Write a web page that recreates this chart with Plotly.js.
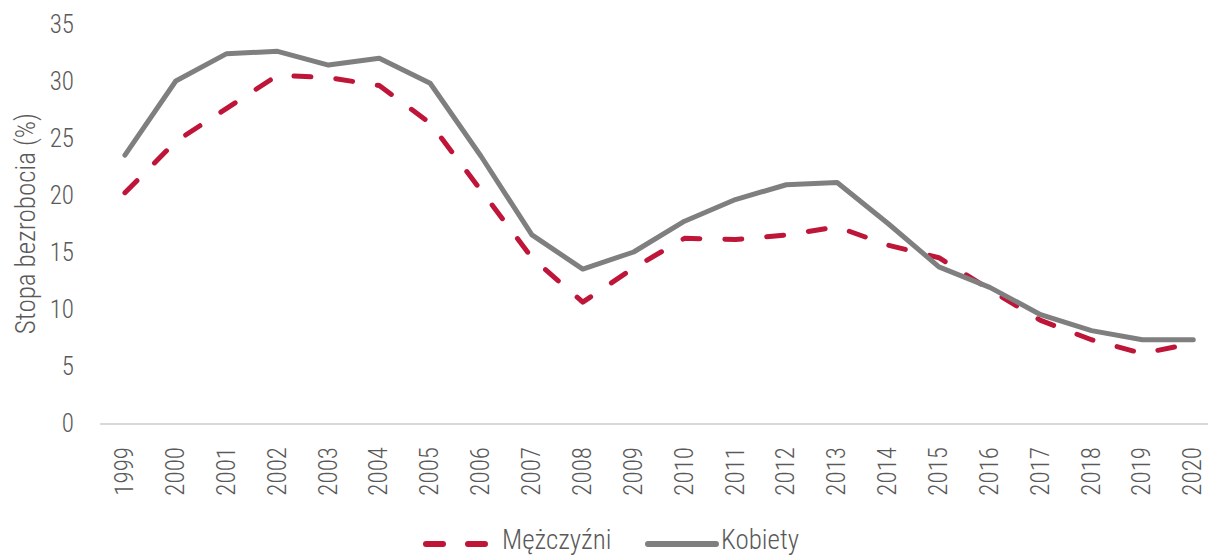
<!DOCTYPE html>
<html>
<head>
<meta charset="utf-8">
<script src="https://cdn.plot.ly/plotly-3.0.1.min.js"></script>
<style>
html,body{margin:0;padding:0;background:#fff;}
#chart{width:1208px;height:558px;}
.scatterlayer path.js-line, .shapelayer path{stroke-linecap:round !important;stroke-linejoin:round !important;}
</style>
</head>
<body>
<div id="chart"></div>
<script>
const years = ["1999","2000","2001","2002","2003","2004","2005","2006","2007","2008","2009","2010","2011","2012","2013","2014","2015","2016","2017","2018","2019","2020"];
const mezczyzni = [20.2,24.7,27.6,30.5,30.3,29.6,26.3,20.4,14.5,10.6,13.6,16.2,16.1,16.5,17.2,15.6,14.5,11.7,9.0,7.3,6.1,7.0];
const kobiety = [23.5,30.0,32.4,32.6,31.4,32.0,29.8,23.4,16.5,13.5,15.0,17.7,19.6,20.9,21.1,17.5,13.7,11.9,9.5,8.1,7.3,7.3];
const yTicks = [0,5,10,15,20,25,30,35];
const seriesNames = ["Mężczyźni","Kobiety"];
const yTitle = "Stopa bezrobocia (%)";

const RED = "#BE1538";
const GRAY = "#7F7F7F";
const TXT = "#595959";
const FONT = '"Roboto Condensed","Liberation Sans Narrow","Arial Narrow",Roboto,sans-serif';

const W = 1208, L = 100, R = 0;
const pw = W - L - R;
function px(x){ return (x - L) / pw; }
const T = 24, B = 135, H = 558;
const ph = H - T - B;
function py(y){ return (H - B - y) / ph; }

const traces = [
  {x: years.map((_,i)=>i), y: mezczyzni, name: seriesNames[0], type: "scatter", mode: "lines",
   line: {color: RED, width: 5, dash: "17px,25px"}, showlegend: false},
  {x: years.map((_,i)=>i), y: kobiety, name: seriesNames[1], type: "scatter", mode: "lines",
   line: {color: GRAY, width: 5}, showlegend: false}
];

const legY = py(544);
const legTextY = py(558);
const layout = {
  width: W, height: H,
  margin: {l: L, r: R, t: T, b: B, pad: 0},
  paper_bgcolor: "#fff", plot_bgcolor: "#fff",
  font: {family: FONT, color: TXT, size: 25, weight: 300},
  showlegend: false,
  xaxis: {
    range: [-0.49, 21.29], tickmode: "array", tickvals: years.map((_,i)=>i), ticktext: years,
    tickangle: -90, showgrid: false, zeroline: false, showline: true, linecolor: "#D9D9D9", linewidth: 2,
    ticks: "", tickfont: {family: FONT, size: 25, color: TXT, weight: 300}, ticklabelstandoff: 12,
    fixedrange: true
  },
  yaxis: {
    range: [0, 35], tickmode: "array", tickvals: yTicks, ticktext: yTicks.map(String),
    showgrid: false, zeroline: false, showline: false, ticks: "",
    tickfont: {family: FONT, size: 25, color: TXT, weight: 300}, ticklabelstandoff: 25,
    title: {text: yTitle, font: {family: FONT, size: 27, color: TXT, weight: 300}, standoff: 6},
    fixedrange: true
  },
  shapes: [
    {type: "line", xref: "paper", yref: "paper", x0: px(426), x1: px(486), y0: legY, y1: legY,
     line: {color: RED, width: 6, dash: "17px,25px"}},
    {type: "line", xref: "paper", yref: "paper", x0: px(648), x1: px(716), y0: legY, y1: legY,
     line: {color: GRAY, width: 6}}
  ],
  annotations: [
    {xref: "paper", yref: "paper", x: px(500), y: legTextY, xanchor: "left", yanchor: "bottom",
     text: seriesNames[0], showarrow: false, font: {family: FONT, size: 27, color: TXT, weight: 300}},
    {xref: "paper", yref: "paper", x: px(719), y: legTextY, xanchor: "left", yanchor: "bottom",
     text: seriesNames[1], showarrow: false, font: {family: FONT, size: 27, color: TXT, weight: 300}}
  ]
};

Plotly.newPlot("chart", traces, layout, {displayModeBar: false, staticPlot: true});
</script>
</body>
</html>
